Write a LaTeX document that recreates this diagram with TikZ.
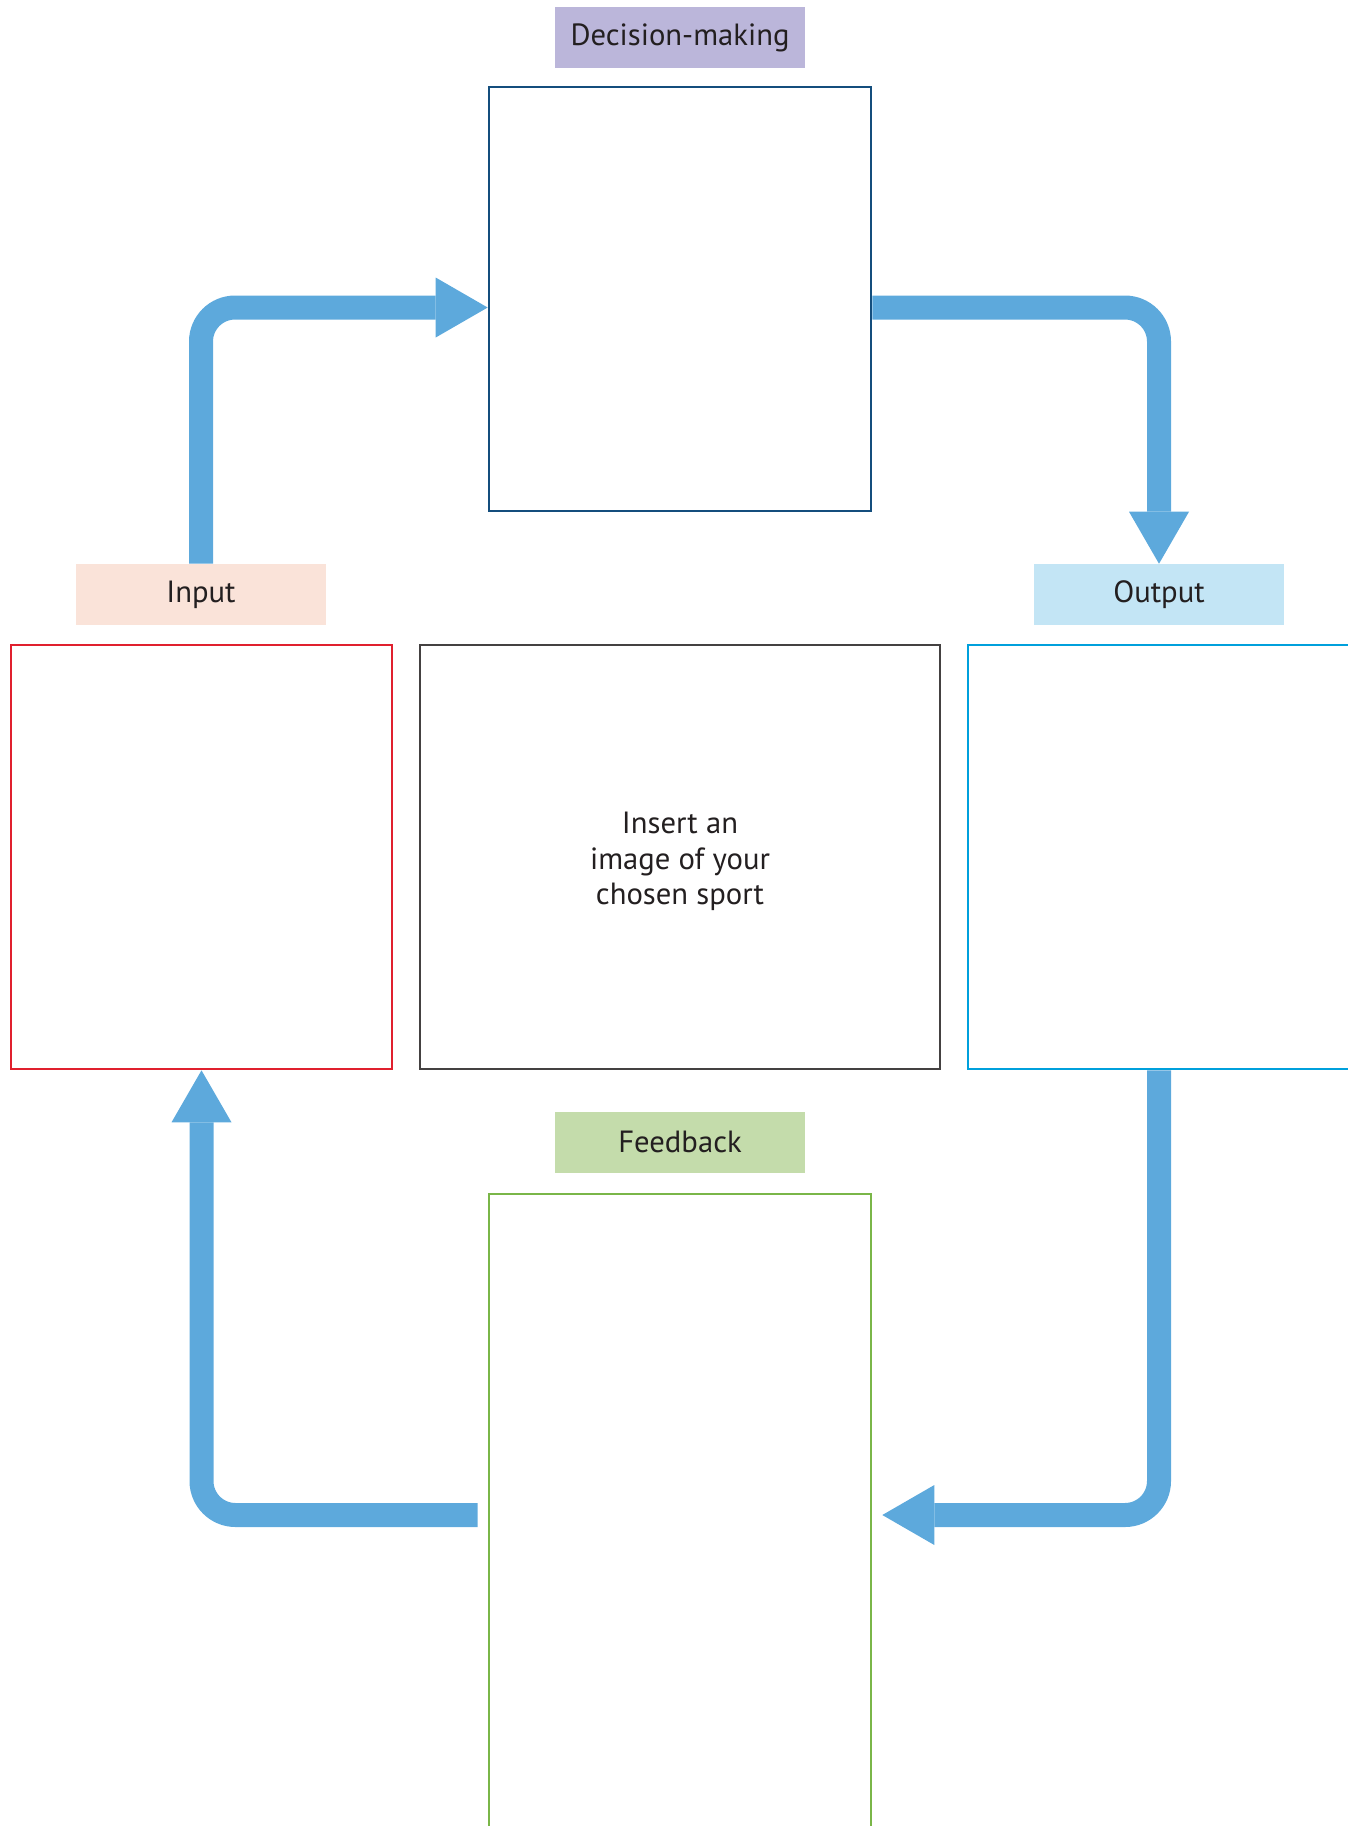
\documentclass[tikz,border=0pt]{standalone}
\usepackage{fontspec}
\setmainfont{PT Sans}
\usetikzlibrary{arrows.meta}

\definecolor{flowblue}{RGB}{93,169,220}
\definecolor{inkgray}{RGB}{35,31,32}
\definecolor{decfill}{RGB}{187,182,218}
\definecolor{decline}{RGB}{20,78,125}
\definecolor{infill}{RGB}{250,227,217}
\definecolor{inline}{RGB}{224,32,46}
\definecolor{outfill}{RGB}{195,229,245}
\definecolor{outline}{RGB}{0,160,220}
\definecolor{fbfill}{RGB}{196,220,171}
\definecolor{fbline}{RGB}{122,182,72}

\begin{document}
\begin{tikzpicture}[x=0.75pt, y=-0.75pt,
    tag/.style={inner sep=0pt, minimum width=187.5pt, minimum height=45.75pt, text=inkgray, font=\fontsize{23}{27}\selectfont},
    panel/.style={draw, line width=2pt, inner sep=0pt, minimum width=286.5pt, minimum height=318pt},
    flow/.style={draw=flowblue, line width=18pt, rounded corners=25.5pt, -{Triangle[length=39pt, width=45pt, line width=0pt]}}]
    \useasboundingbox (0, 0) rectangle (1347, 1826);

    % labels
    \node[tag, fill=decfill] at (680, 37.5) (declabel) {Decision-making};
    \node[tag, fill=infill] at (201, 594.5) (inlabel) {Input};
    \node[tag, fill=outfill] at (1159, 594.5) (outlabel) {Output};
    \node[tag, fill=fbfill] at (680, 1142) (fblabel) {Feedback};

    % boxes
    \node[panel, draw=decline] at (680, 299) (decbox) {};
    \node[panel, draw=inline, minimum width=285.75pt] at (201.5, 857) (inbox) {};
    \node[panel, draw=inkgray!85, line width=1.1pt, minimum width=390pt] at (680, 857) (sportbox) {};
    \node[align=center, text=inkgray, font=\fontsize{23}{26.8}\selectfont] at ([yshift=-3.4pt]sportbox.center) (sportnote) {Insert an\\image of your\\chosen sport};
    \node[panel, draw=outline, minimum width=300pt] at (1168, 857) (outbox) {};
    \node[panel, draw=fbline, minimum height=481.5pt] at (680, 1515) (fbbox) {};

    % loop
    \draw[flow] (inlabel.north) |- ([yshift=-6.4pt]decbox.west);
    \draw[flow] ([yshift=-6.4pt]decbox.east) -| (outlabel.north);
    \draw[flow] (outlabel |- outbox.south) |- ([xshift=7.5pt]fbbox.east);
    \draw[flow] ([xshift=-7.5pt]fbbox.west) -| (inbox.south);
\end{tikzpicture}
\end{document}
